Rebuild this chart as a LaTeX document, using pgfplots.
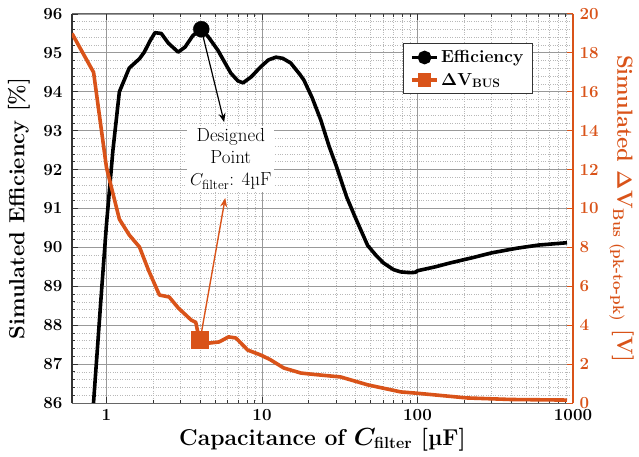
\documentclass[border=0pt]{standalone}
\usepackage{amsmath}
\usepackage{fontspec}
\usepackage{pgfplots}
\pgfplotsset{compat=1.18}
\usetikzlibrary{arrows.meta}
\definecolor{morange}{HTML}{D95319}

\pgfplotstableread{
x y
0.825 86.0
0.93 88.9
1.0 90.6
1.1 92.5
1.21 94.0
1.40 94.61
1.63 94.85
1.75 95.02
1.9 95.3
2.05 95.52
2.25 95.5
2.5 95.25
2.89 95.02
3.2 95.15
3.6 95.45
4.07 95.61
4.5 95.42
5.2 95.07
6.3 94.48
7.0 94.28
7.55 94.23
8.5 94.38
9.8 94.64
11 94.82
12.3 94.89
13.6 94.86
15.3 94.74
17.5 94.45
18.6 94.3
21 93.85
23.9 93.27
27 92.6
30 92.1
35 91.3
40 90.75
47.8 90.05
54 89.8
60.4 89.6
70 89.43
78 89.37
90 89.35
97 89.36
100 89.4
130 89.5
162 89.6
228 89.74
300 89.86
437 89.98
600 90.06
915 90.12
}\effdata

\pgfplotstableread{
x y
0.6 19.0
0.826 17.0
1.0 12.1
1.21 9.45
1.40 8.64
1.63 8.02
1.86 6.84
2.19 5.55
2.53 5.45
2.9 4.88
3.5 4.27
3.75 4.15
3.9 3.5
4.0 3.24
4.57 3.08
5.3 3.14
6.1 3.4
6.8 3.34
8.1 2.72
9.8 2.47
11.4 2.21
13.8 1.80
17.8 1.54
21.5 1.47
32 1.34
48 0.93
78 0.57
100 0.5
208 0.26
400 0.18
915 0.15
}\dvdata

\begin{document}
\begin{tikzpicture}
\useasboundingbox (-72bp,-54bp) rectangle (567bp,403bp);
\begin{axis}[
  at={(0,0)}, anchor=south west,
  scale only axis, width=501bp, height=389bp,
  xmode=log, xmin=0.6, xmax=1000,
  ymin=86, ymax=96, ytick={86,87,...,96},
  minor y tick num=4,
  xtick={1,10,100,1000}, xticklabels={1,10,100,1000},
  grid=both,
  major grid style={black!40, line width=0.8pt},
  minor grid style={black!28, dotted, line width=0.7pt},
  axis y line*=left,
  axis x line*=box,
  tick align=inside,
  major tick length=6bp, minor tick length=3bp,
  every tick/.style={black!80, line width=0.8pt},
  y axis line style={line width=1.6pt, black!80},
  x axis line style={line width=1pt, black!60},
  /pgf/number format/assume math mode=true,
  tick label style={font=\fontsize{17}{20}\selectfont\bfseries},
  yticklabel style={xshift=-6bp},
  xticklabel style={yshift=-3bp},
  label style={font=\fontsize{22}{26}\selectfont\bfseries\boldmath},
  xlabel style={font=\fontsize{23}{26}\selectfont\bfseries\boldmath,
    at={(axis description cs:0.5,0)}, anchor=base, yshift=-42bp},
  ylabel style={at={(axis description cs:-0.106,0.5)}, anchor=center},
  xlabel={Capacitance of $C_{\text{filter}}$ [µF]},
  ylabel={Simulated Efficiency [\%]},
]
\addplot[black, line width=3.6bp, line join=round] table[x=x,y=y]{\effdata};
\addplot[black, only marks, mark=*, mark size=8bp] coordinates {(4.07,95.61)};
\node[fill=white, align=center, inner sep=3bp, font=\fontsize{19}{22}\selectfont]
  at (axis cs:6.3,92.27) {Designed\\Point\\$C_{\text{filter}}$: 4µF};
\draw[-{Stealth[length=9bp,width=7bp]}, line width=1.2pt, black] (axis cs:4.07,95.61) -- (axis cs:5.71,93.22);
\end{axis}
\begin{axis}[
  at={(0,0)}, anchor=south west,
  scale only axis, width=501bp, height=389bp,
  xmode=log, xmin=0.6, xmax=1000,
  axis x line=none,
  axis y line*=right,
  ymin=0, ymax=20, ytick={0,2,...,20},
  tick align=inside,
  major tick length=6bp,
  every tick/.style={morange, line width=1pt},
  y axis line style={line width=1.8pt, morange},
  /pgf/number format/assume math mode=true,
  tick label style={font=\fontsize{17}{20}\selectfont\bfseries, text=morange},
  yticklabel style={xshift=3bp},
  label style={font=\fontsize{22}{26}\selectfont\bfseries\boldmath, text=morange},
  ylabel style={rotate=180, at={(axis description cs:1.097,0.5)}, anchor=center},
  ylabel={Simulated $\Delta$V$_{\text{Bus (pk-to-pk)}}$ [V]},
  legend style={at={(0.92,0.925)}, anchor=north east, draw=black!80, line width=1pt,
    fill=white, font=\fontsize{17.5}{20}\selectfont\bfseries\boldmath,
    inner xsep=7bp, inner ysep=5bp, row sep=5bp},
  legend cell align=left,
  legend image code/.code={\draw[mark repeat=2,mark phase=2,#1] plot coordinates {(0cm,0cm) (0.45cm,0cm) (0.9cm,0cm)};},
]
\addlegendimage{black, line width=3.6bp, mark=*, mark size=5bp}
\addlegendentry{Efficiency}
\addlegendimage{morange, line width=3.6bp, mark=square*, mark size=5bp}
\addlegendentry{$\Delta$V$_{\text{BUS}}$}
\addplot[morange, line width=3.6bp, line join=round, forget plot] table[x=x,y=y]{\dvdata};
\addplot[morange, only marks, mark=square*, mark size=8.5bp, forget plot] coordinates {(4.0,3.24)};
\draw[-{Stealth[length=9bp,width=7bp]}, line width=1.4pt, morange] (axis cs:4.0,3.24) -- (axis cs:5.8,10.54);
\end{axis}
\end{tikzpicture}
\end{document}
